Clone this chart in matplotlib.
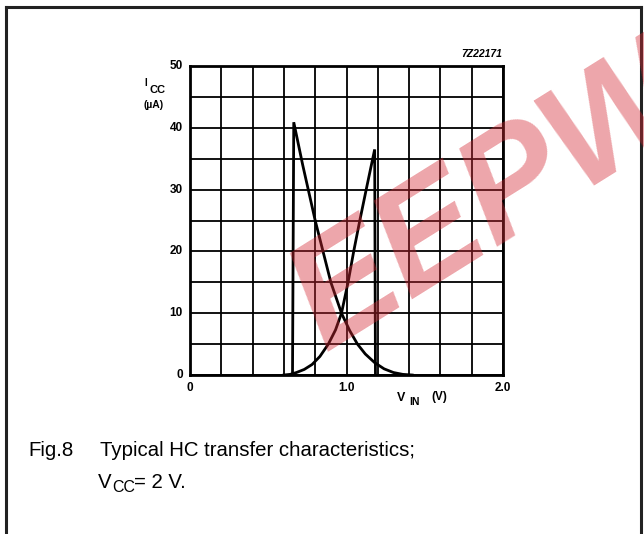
"""
HC transfer characteristics (Fig.8) — I_CC vs V_IN, V_CC = 2 V
"""
import numpy as np
import matplotlib
matplotlib.use("Agg")
import matplotlib.pyplot as plt
from matplotlib.lines import Line2D

plt.rcParams['font.family'] = ['Liberation Sans', 'DejaVu Sans']

# 读图数据
vin_a = [0.655, 0.663, 0.72, 0.80, 0.86, 0.90, 0.968, 1.02, 1.07, 1.12, 1.18,
         1.24, 1.30, 1.36, 1.42]
icc_a = [0.0, 40.9, 34.0, 25.0, 19.0, 15.0, 10.0, 7.2, 5.0, 3.4, 2.0,
         1.0, 0.4, 0.1, 0.0]

vin_b = [0.60, 0.64, 0.68, 0.73, 0.78, 0.83, 0.884, 0.93, 0.968, 1.01, 1.046,
         1.085, 1.13, 1.18, 1.185]
icc_b = [0.0, 0.1, 0.4, 0.9, 1.7, 3.0, 5.0, 7.3, 10.0, 15.0, 20.0,
         25.0, 30.5, 36.5, 0.0]

x_ticks = [0, 1.0, 2.0]
x_ticklabels = ['0', '1.0', '2.0']
y_ticks = [0, 10, 20, 30, 40, 50]

W, H = 644, 534
fig = plt.figure(figsize=(W / 100, H / 100), dpi=100)

def px(x, y):
    return x / W, 1 - y / H

# 外框
for xs, ys in [((6, 6), (7, 534)), ((6, 641), (7, 7)), ((641, 641), (7, 534))]:
    fig.add_artist(Line2D([x / W for x in xs], [1 - y / H for y in ys],
                          color='#222222', lw=2.2))

ax = fig.add_axes([190 / W, 1 - 375 / H, 313 / W, 309 / H])
ax.set_xlim(0, 2.0)
ax.set_ylim(0, 50)
ax.set_xticks(np.arange(0, 2.01, 0.2))
ax.set_yticks(np.arange(0, 50.1, 5))
ax.grid(True, color='black', lw=1.3)
ax.tick_params(length=0, labelbottom=False, labelleft=False)
for s in ax.spines.values():
    s.set_linewidth(2.0)

ax.plot(vin_a, icc_a, color='black', lw=2.0, solid_joinstyle='miter')
ax.plot(vin_b, icc_b, color='black', lw=2.0, solid_joinstyle='miter')

for v, lab in zip(x_ticks, x_ticklabels):
    ax.text(v, -2.1, lab, ha='center', va='center', fontsize=8.5, fontweight='bold')
for v in y_ticks:
    ax.text(-0.045, v, str(v), ha='right', va='center', fontsize=8.5, fontweight='bold')

# 轴标签
fig.text(*px(146, 83), 'I', ha='center', va='center', fontsize=7, fontweight='bold')
fig.text(*px(158, 90), 'CC', ha='center', va='center', fontsize=8, fontweight='bold')
fig.text(*px(154, 105), '(\u00b5A)', ha='center', va='center', fontsize=7.5, fontweight='bold')
fig.text(*px(401, 398), 'V', ha='center', va='center', fontsize=9, fontweight='bold')
fig.text(*px(415, 402), 'IN', ha='center', va='center', fontsize=7.5, fontweight='bold')
fig.text(*px(439, 397), '(V)', ha='center', va='center', fontsize=8.5, fontweight='bold')
fig.text(*px(502, 54), '7Z22171', ha='right', va='center', fontsize=7.5,
         fontweight='bold', style='italic')

# 图注
fig.text(*px(28, 450), 'Fig.8', ha='left', va='center', fontsize=14.7)
fig.text(*px(100, 450), 'Typical HC transfer characteristics;', ha='left', va='center',
         fontsize=14.7)
fig.text(*px(98, 483), 'V', ha='left', va='center', fontsize=14.7)
fig.text(*px(112, 488), 'CC', ha='left', va='center', fontsize=11.5)
fig.text(*px(134, 483), '= 2 V.', ha='left', va='center', fontsize=14.7)

# 水印
fig.text(*px(325, 352), 'EEPW', ha='left', va='baseline', rotation=32,
         rotation_mode='anchor', fontsize=108, fontweight='bold', style='italic',
         color='#d42a35', alpha=0.42, zorder=10)

plt.savefig('out.png', dpi=100)
